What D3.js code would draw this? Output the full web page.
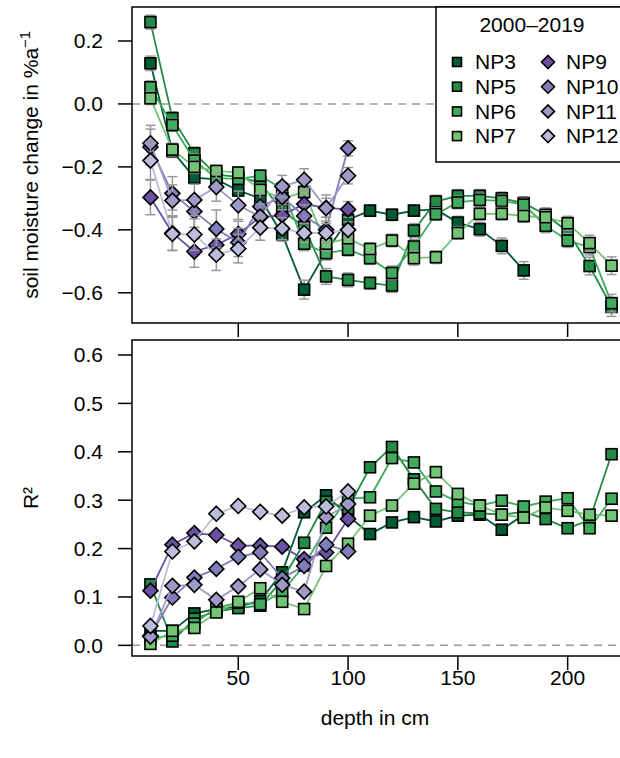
<!DOCTYPE html>
<html><head><meta charset="utf-8">
<script src="https://cdn.jsdelivr.net/npm/d3@7"></script>
<style>body{margin:0;background:#fff}svg{display:block}text{font-family:"Liberation Sans",Arial,sans-serif;fill:#000}</style>
</head><body><svg id="c" width="620" height="758"></svg>
<script>
// ---------- data ----------
const depthsGreen = [10,20,30,40,50,60,70,80,90,100,110,120,130,140,150,160,170,180,190,200,210,220];
const depthsNP3 = [10,20,30,40,50,60,70,80,90,100,110,120,130,140,150,160,170,180];
const depthsPurple = [10,20,30,40,50,60,70,80,90,100];

const seriesNames = ["NP3","NP5","NP6","NP7","NP9","NP10","NP11","NP12"];
const seriesColors = ["#005a32","#238b45","#41ab5d","#74c476","#6a51a3","#807dba","#9e9ac8","#bcbddc"];

// trend (%/a)
const trendNP3 = [0.129,-0.15,-0.234,-0.24,-0.275,-0.30,-0.414,-0.59,-0.47,-0.368,-0.339,-0.352,-0.339,-0.335,-0.377,-0.398,-0.451,-0.529];
const trendNP5 = [0.26,-0.045,-0.157,-0.225,-0.232,-0.25,-0.34,-0.39,-0.548,-0.559,-0.569,-0.577,-0.402,-0.31,-0.292,-0.292,-0.30,-0.315,-0.352,-0.405,-0.515,-0.645];
const trendNP6 = [0.053,-0.067,-0.18,-0.236,-0.238,-0.228,-0.27,-0.444,-0.474,-0.463,-0.49,-0.537,-0.453,-0.35,-0.313,-0.305,-0.308,-0.32,-0.387,-0.434,-0.455,-0.633];
const trendNP7 = [0.018,-0.145,-0.20,-0.213,-0.218,-0.273,-0.30,-0.28,-0.444,-0.427,-0.461,-0.434,-0.49,-0.487,-0.41,-0.349,-0.349,-0.356,-0.36,-0.379,-0.442,-0.514];
const trendNP9  = [-0.297,-0.41,-0.469,-0.448,-0.413,-0.36,-0.354,-0.318,-0.33,-0.335];
const trendNP10 = [-0.137,-0.284,-0.342,-0.397,-0.44,-0.326,-0.296,-0.356,-0.40,-0.141];
const trendNP11 = [-0.125,-0.307,-0.305,-0.264,-0.322,-0.358,-0.262,-0.241,-0.331,-0.228];
const trendNP12 = [-0.18,-0.413,-0.415,-0.479,-0.46,-0.393,-0.396,-0.41,-0.41,-0.40];

// standard errors of trend
const errNP3 = [0.023,0.02,0.02,0.018,0.018,0.02,0.022,0.03,0.025,0.02,0.018,0.018,0.018,0.02,0.02,0.022,0.025,0.028];
const errNP5 = [0.022,0.02,0.02,0.018,0.018,0.018,0.02,0.02,0.025,0.022,0.02,0.022,0.022,0.02,0.02,0.02,0.02,0.02,0.022,0.025,0.028,0.03];
const errNP6 = [0.02,0.02,0.02,0.018,0.018,0.018,0.02,0.022,0.022,0.02,0.02,0.022,0.022,0.02,0.02,0.02,0.02,0.02,0.022,0.022,0.025,0.028];
const errNP7 = [0.02,0.02,0.02,0.018,0.018,0.018,0.02,0.02,0.022,0.02,0.02,0.02,0.022,0.02,0.02,0.02,0.02,0.02,0.02,0.022,0.025,0.028];
const errNP9  = [0.055,0.055,0.05,0.045,0.04,0.035,0.035,0.03,0.03,0.025];
const errNP10 = [0.057,0.053,0.05,0.06,0.045,0.04,0.04,0.035,0.04,0.024];
const errNP11 = [0.057,0.05,0.05,0.045,0.045,0.04,0.035,0.035,0.042,0.026];
const errNP12 = [0.06,0.053,0.05,0.05,0.045,0.04,0.035,0.03,0.03,0.025];

// R²
const r2NP3 = [0.03,0.03,0.066,0.075,0.08,0.092,0.151,0.275,0.31,0.268,0.23,0.254,0.265,0.256,0.268,0.27,0.239,0.27];
const r2NP5 = [0.126,0.008,0.055,0.07,0.077,0.082,0.135,0.212,0.297,0.283,0.368,0.41,0.343,0.282,0.275,0.273,0.27,0.276,0.261,0.242,0.259,0.395];
const r2NP6 = [0.015,0.02,0.045,0.078,0.088,0.085,0.111,0.165,0.243,0.303,0.306,0.387,0.378,0.318,0.297,0.289,0.299,0.287,0.297,0.304,0.242,0.303];
const r2NP7 = [0.003,0.03,0.036,0.068,0.09,0.118,0.09,0.075,0.164,0.21,0.268,0.289,0.334,0.358,0.313,0.289,0.27,0.264,0.285,0.278,0.27,0.268];
const r2NP9  = [0.113,0.208,0.232,0.228,0.206,0.206,0.204,0.178,0.192,0.261];
const r2NP10 = [0.02,0.099,0.14,0.158,0.183,0.192,0.139,0.164,0.208,0.194];
const r2NP11 = [0.018,0.123,0.125,0.094,0.122,0.157,0.125,0.111,0.265,0.292];
const r2NP12 = [0.04,0.194,0.215,0.272,0.288,0.276,0.268,0.285,0.287,0.318];

const xTicks = [50,100,150,200];
const yTicksTop = [-0.6,-0.4,-0.2,0.0,0.2];
const yTicksBottom = [0.0,0.1,0.2,0.3,0.4,0.5,0.6];
const legendTitle = "2000–2019";

// ---------- assemble ----------
const series = [
  {name:"NP3", depth:depthsNP3, trend:trendNP3, err:errNP3, r2:r2NP3, shape:"square"},
  {name:"NP5", depth:depthsGreen, trend:trendNP5, err:errNP5, r2:r2NP5, shape:"square"},
  {name:"NP6", depth:depthsGreen, trend:trendNP6, err:errNP6, r2:r2NP6, shape:"square"},
  {name:"NP7", depth:depthsGreen, trend:trendNP7, err:errNP7, r2:r2NP7, shape:"square"},
  {name:"NP9", depth:depthsPurple, trend:trendNP9, err:errNP9, r2:r2NP9, shape:"diamond"},
  {name:"NP10", depth:depthsPurple, trend:trendNP10, err:errNP10, r2:r2NP10, shape:"diamond"},
  {name:"NP11", depth:depthsPurple, trend:trendNP11, err:errNP11, r2:r2NP11, shape:"diamond"},
  {name:"NP12", depth:depthsPurple, trend:trendNP12, err:errNP12, r2:r2NP12, shape:"diamond"}
];
series.forEach(s=>{ s.color = seriesColors[seriesNames.indexOf(s.name)]; });

const svg = d3.select("#c");
const FS = 21;
const L = 132, R = 630;
const pTop = {t:7, b:323}, pBot = {t:340, b:656};

const x = d3.scaleLinear().domain([1.6,228.4]).range([L,R]);
const yT = d3.scaleLinear().domain([-0.696,0.308]).range([pTop.b,pTop.t]);
const yB = d3.scaleLinear().domain([-0.022,0.631]).range([pBot.b,pBot.t]);

const fmtMinus = v => d3.format(".1f")(v).replace("-","−");

function sym(g, shape, cx, cy, color){
  if(shape==="square"){
    g.append("rect").attr("x",cx-5.5).attr("y",cy-5.5).attr("width",11).attr("height",11)
      .attr("fill",color).attr("stroke","#000").attr("stroke-width",1.6);
  } else {
    const r=7.5;
    g.append("path").attr("d",`M${cx},${cy-r}L${cx+r},${cy}L${cx},${cy+r}L${cx-r},${cy}Z`)
      .attr("fill",color).attr("stroke","#000").attr("stroke-width",1.6);
  }
}

function panel(y, yr, key, ticks, withErr, showXLabels){
  const clipId = "clip"+key;
  svg.append("clipPath").attr("id",clipId).append("rect")
    .attr("x",L).attr("y",yr.t).attr("width",R-L).attr("height",yr.b-yr.t);
  const g = svg.append("g").attr("clip-path",`url(#${clipId})`);
  g.append("line").attr("x1",L).attr("x2",R).attr("y1",y(0)).attr("y2",y(0))
    .attr("stroke","#999").attr("stroke-width",1.5).attr("stroke-dasharray","8,6");
  const line = d3.line().x(d=>x(d[0])).y(d=>y(d[1]));
  series.forEach(s=>{
    const vals = s[key];
    const pts = s.depth.map((d,i)=>[d,vals[i],s.err[i]]);
    g.append("path").attr("d",line(pts)).attr("fill","none").attr("stroke",s.color).attr("stroke-width",1.8);
    if(withErr){
      pts.forEach(p=>{
        const cx=x(p[0]), y1=y(p[1]-p[2]), y2=y(p[1]+p[2]);
        g.append("line").attr("x1",cx).attr("x2",cx).attr("y1",y1).attr("y2",y2).attr("stroke","#999").attr("stroke-width",1.5);
        [y1,y2].forEach(yy=>g.append("line").attr("x1",cx-5).attr("x2",cx+5).attr("y1",yy).attr("y2",yy).attr("stroke","#999").attr("stroke-width",1.5));
      });
    }
    pts.forEach(p=>sym(g,s.shape,x(p[0]),y(p[1]),s.color));
  });
  svg.append("rect").attr("x",L).attr("y",yr.t).attr("width",R-L).attr("height",yr.b-yr.t)
    .attr("fill","none").attr("stroke","#000").attr("stroke-width",1.5);
  ticks.forEach(t=>{
    svg.append("line").attr("x1",L-14).attr("x2",L).attr("y1",y(t)).attr("y2",y(t)).attr("stroke","#000").attr("stroke-width",1.5);
    svg.append("text").attr("x",L-29).attr("y",y(t)).attr("dy","0.35em").attr("text-anchor","end")
      .attr("font-size",FS).text(fmtMinus(t));
  });
  xTicks.forEach(t=>{
    svg.append("line").attr("x1",x(t)).attr("x2",x(t)).attr("y1",yr.b).attr("y2",yr.b+14).attr("stroke","#000").attr("stroke-width",1.5);
    if(showXLabels){
      svg.append("text").attr("x",x(t)).attr("y",yr.b+22).attr("dy","0.35em").attr("text-anchor","middle")
        .attr("font-size",FS).text(t);
    }
  });
}

panel(yT, pTop, "trend", yTicksTop, true, false);
panel(yB, pBot, "r2", yTicksBottom, false, true);

const yl = svg.append("text").attr("transform",`translate(38,${(pTop.t+pTop.b)/2}) rotate(-90)`)
  .attr("text-anchor","middle").attr("font-size",FS);
yl.append("tspan").text("soil moisture change in %a");
yl.append("tspan").attr("font-size",FS*0.7).attr("dy",-8).text("−1");
svg.append("text").attr("transform",`translate(38,${(pBot.t+pBot.b)/2}) rotate(-90)`)
  .attr("text-anchor","middle").attr("font-size",FS).text("R²");
svg.append("text").attr("x",375).attr("y",718).attr("dy","0.35em").attr("text-anchor","middle")
  .attr("font-size",FS).text("depth in cm");

const lg = svg.append("g");
lg.append("rect").attr("x",436).attr("y",pTop.t).attr("width",200).attr("height",162-pTop.t)
  .attr("fill","#fff").attr("stroke","#000").attr("stroke-width",1.5);
lg.append("text").attr("x",532).attr("y",25).attr("dy","0.35em").attr("text-anchor","middle").attr("font-size",FS).text(legendTitle);
series.forEach((s,i)=>{
  const col = i<4 ? 0 : 1, row = i%4;
  const sx = col===0 ? 457 : 548, cy = 62 + row*24.7;
  if(s.shape==="square"){
    lg.append("rect").attr("x",sx-4.5).attr("y",cy-4.5).attr("width",9).attr("height",9).attr("fill",s.color).attr("stroke","#000").attr("stroke-width",1.6);
  } else {
    const r=6.5;
    lg.append("path").attr("d",`M${sx},${cy-r}L${sx+r},${cy}L${sx},${cy+r}L${sx-r},${cy}Z`).attr("fill",s.color).attr("stroke","#000").attr("stroke-width",1.6);
  }
  lg.append("text").attr("x",sx+18).attr("y",cy).attr("dy","0.35em").attr("font-size",FS).text(s.name);
});
</script></body></html>
